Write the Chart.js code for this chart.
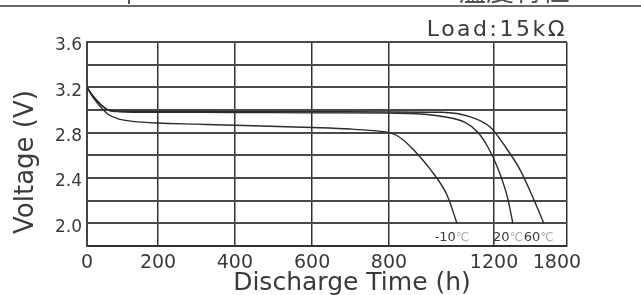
<!DOCTYPE html>
<html>
<head>
<meta charset="utf-8">
<script src="https://cdn.jsdelivr.net/npm/chart.js@4"></script>
<style>
  body { margin: 0; background: #fff; }
</style>
</head>
<body>
<canvas id="dischargeChart" width="641" height="295"></canvas>
<script>
// Discharge curves at three temperatures (hours, volts)
const hoursM10 = [0, 15, 35, 60, 90, 130, 200, 300, 400, 600, 700, 760, 800, 830, 860, 891, 956, 1021, 1059];
const voltsM10 = [3.20, 3.12, 3.04, 2.96, 2.92, 2.90, 2.885, 2.875, 2.865, 2.845, 2.832, 2.818, 2.80, 2.775, 2.725, 2.655, 2.48, 2.25, 2.00];

const hours20 = [0, 15, 35, 60, 90, 200, 400, 600, 800, 920, 1010, 1090, 1140, 1175, 1230, 1325, 1380];
const volts20 = [3.20, 3.13, 3.06, 3.00, 2.985, 2.98, 2.978, 2.975, 2.972, 2.965, 2.94, 2.89, 2.80, 2.68, 2.50, 2.24, 2.00];

const hours60 = [0, 15, 35, 60, 90, 200, 400, 600, 800, 1000, 1110, 1185, 1305, 1450, 1570, 1675];
const volts60 = [3.20, 3.13, 3.06, 3.00, 2.99, 2.988, 2.986, 2.985, 2.983, 2.98, 2.94, 2.85, 2.68, 2.47, 2.23, 2.00];

const tempLabels = ["-10", "20", "60"];
const xTicks = [0, 200, 400, 600, 800, 1200, 1800];
const yTickLabels = ["2.0", "2.4", "2.8", "3.2", "3.6"];

// the printed time axis is not to scale: each break gets its own share of the width
const xMax = 1895;
const xBreaks = [0, 200, 400, 600, 800, 1200, 1800, xMax];
const xBreakFrac = [0, 0.148, 0.308, 0.469, 0.629, 0.848, 0.979, 1];

class PiecewiseScale extends Chart.LinearScale {
  getPixelForValue(value) {
    if (value === null || isNaN(value)) return NaN;
    let i = 1;
    while (i < xBreaks.length - 1 && value > xBreaks[i]) i++;
    const t = (value - xBreaks[i - 1]) / (xBreaks[i] - xBreaks[i - 1]);
    const f = xBreakFrac[i - 1] + t * (xBreakFrac[i] - xBreakFrac[i - 1]);
    return this.left + f * this.width;
  }
  getValueForPixel(pixel) {
    const f = (pixel - this.left) / this.width;
    let i = 1;
    while (i < xBreakFrac.length - 1 && f > xBreakFrac[i]) i++;
    const t = (f - xBreakFrac[i - 1]) / (xBreakFrac[i] - xBreakFrac[i - 1]);
    return xBreaks[i - 1] + t * (xBreaks[i] - xBreaks[i - 1]);
  }
}
PiecewiseScale.id = "piecewise";
PiecewiseScale.defaults = Chart.LinearScale.defaults;
Chart.register(PiecewiseScale);

function toPoints(hours, volts) {
  return hours.map((h, i) => ({ x: h, y: volts[i] }));
}

const FONT = "'DejaVu Sans', sans-serif";
const TEXT = "#3a3a3a";

// titles, load note and curve labels drawn straight on the canvas
const annotations = {
  id: "annotations",
  afterDraw(chart) {
    const { ctx, scales } = chart;
    const x = scales.x, y = scales.y;
    ctx.save();

    // cropped header line of the datasheet
    ctx.fillStyle = "#6a6a6a";
    ctx.fillRect(0, 5, chart.width, 2);
    ctx.fillStyle = "#555";
    ctx.font = "22px " + FONT;
    ctx.textBaseline = "alphabetic";
    ctx.fillText("p", 126, 0);
    ctx.font = "28px 'Noto Sans CJK TC'";
    ctx.textBaseline = "ideographic";
    ctx.fillText("溫度特性", 458, 4);

    ctx.fillStyle = TEXT;
    ctx.textBaseline = "alphabetic";
    ctx.letterSpacing = "2.5px";
    ctx.font = "22px " + FONT;
    ctx.textAlign = "right";
    ctx.fillText("Load:15kΩ", 567, 36);
    ctx.letterSpacing = "0px";

    ctx.textAlign = "center";
    ctx.font = "25px " + FONT;
    ctx.fillText("Discharge Time (h)", 352, 290);

    ctx.save();
    ctx.translate(33, 162);
    ctx.rotate(-Math.PI / 2);
    ctx.font = "26px " + FONT;
    ctx.fillText("Voltage (V)", 0, 0);
    ctx.restore();

    // temperature tags at the end of each curve
    const ends = [hoursM10, hours20, hours60].map(h => h[h.length - 1]);
    ctx.font = "13px " + FONT;
    ctx.textBaseline = "middle";
    ctx.textAlign = "left";
    ends.forEach((h, i) => {
      const num = tempLabels[i];
      const wNum = ctx.measureText(num).width;
      ctx.font = "12px " + FONT;
      const wDeg = ctx.measureText("℃").width;
      ctx.font = "13px " + FONT;
      const cx = x.getPixelForValue(h) - 5;
      const left = cx - (wNum + wDeg) / 2;
      const py = y.getPixelForValue(1.87);
      ctx.fillStyle = TEXT;
      ctx.fillText(num, left, py);
      ctx.fillStyle = "#aaa";
      ctx.font = "12px " + FONT;
      ctx.fillText("℃", left + wNum, py);
      ctx.font = "13px " + FONT;
    });

    ctx.restore();
  }
};

const lineStyle = {
  borderColor: "#2b2b2b",
  borderWidth: 1.4,
  pointRadius: 0,
  fill: false,
  cubicInterpolationMode: "monotone"
};

new Chart(document.getElementById("dischargeChart"), {
  type: "line",
  data: {
    datasets: [
      { label: "-10", data: toPoints(hoursM10, voltsM10), ...lineStyle },
      { label: "20", data: toPoints(hours20, volts20), ...lineStyle },
      { label: "60", data: toPoints(hours60, volts60), ...lineStyle }
    ]
  },
  options: {
    responsive: false,
    animation: false,
    layout: { padding: { left: 0, right: 74, top: 42, bottom: 0 } },
    plugins: {
      legend: { display: false },
      tooltip: { enabled: false }
    },
    scales: {
      x: {
        type: "piecewise",
        min: 0,
        max: xMax,
        afterBuildTicks: axis => {
          axis.ticks = xTicks.concat([xMax]).map(v => ({ value: v }));
        },
        afterFit: axis => { axis.height = 49; },
        ticks: {
          autoSkip: false,
          maxRotation: 0,
          padding: 6,
          color: TEXT,
          font: { family: FONT, size: 19 },
          callback: v => (v === xMax ? "" : String(v))
        },
        grid: {
          drawTicks: false,
          lineWidth: 1.5,
          color: ctx => (ctx.tick && ctx.tick.value === 1800 ? "rgba(0,0,0,0)" : "#333")
        },
        border: { display: true, color: "#333", width: 2 }
      },
      y: {
        min: 1.8,
        max: 3.6,
        afterBuildTicks: axis => {
          const t = [];
          for (let i = 0; i <= 9; i++) t.push({ value: Math.round((1.8 + i * 0.2) * 10) / 10 });
          axis.ticks = t;
        },
        afterFit: axis => { axis.width = 87; },
        ticks: {
          autoSkip: false,
          padding: 5,
          labelOffset: 4,
          color: TEXT,
          font: { family: FONT, size: 17 },
          callback: v => {
            const s = Number(v).toFixed(1);
            return yTickLabels.includes(s) ? s : "";
          }
        },
        grid: { drawTicks: false, lineWidth: 2, color: "#4a4a4a" },
        border: { display: true, color: "#444", width: 2 }
      }
    }
  },
  plugins: [annotations]
});
</script>
</body>
</html>
